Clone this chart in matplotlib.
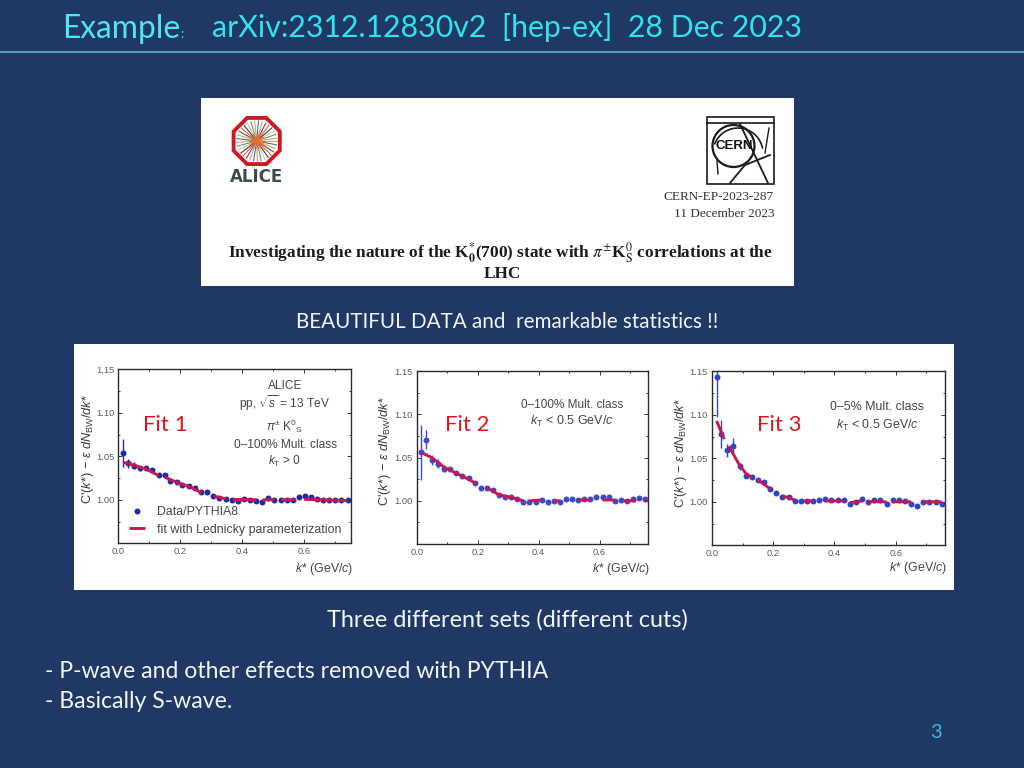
import numpy as np
import matplotlib
matplotlib.use("Agg")
import matplotlib.pyplot as plt
from matplotlib.patches import Rectangle, Polygon, Circle, Arc

plt.rcParams.update({
    "font.family": ["Liberation Sans", "DejaVu Sans"],
    "mathtext.fontset": "custom",
    "mathtext.rm": "Liberation Sans",
    "mathtext.it": "Liberation Sans:italic",
    "mathtext.bf": "Liberation Sans:bold",
})

# ---------- data ----------
kstar = [0.015, 0.03, 0.05, 0.07, 0.09, 0.11, 0.13, 0.15, 0.17, 0.19, 0.21, 0.23, 0.25,
         0.27, 0.29, 0.31, 0.33, 0.35, 0.37, 0.39, 0.41, 0.43, 0.45, 0.47, 0.49, 0.51,
         0.53, 0.55, 0.57, 0.59, 0.61, 0.63, 0.65, 0.67, 0.69, 0.71, 0.73, 0.75]
kstar_fit1 = [0.016, 0.032, 0.052, 0.071, 0.09, 0.11, 0.13, 0.15, 0.168, 0.188, 0.207, 0.227, 0.247,
              0.267, 0.287, 0.306, 0.326, 0.346, 0.366, 0.385, 0.405, 0.425, 0.445, 0.464, 0.484, 0.504,
              0.524, 0.544, 0.563, 0.583, 0.602, 0.622, 0.642, 0.661, 0.68, 0.70, 0.72, 0.741]

fit1_y = [1.054, 1.042, 1.039, 1.036, 1.036, 1.034, 1.028, 1.028, 1.022, 1.020, 1.017, 1.016, 1.013,
          1.009, 1.009, 1.004, 1.002, 1.001, 1.000, 0.999, 1.001, 1.000, 0.999, 0.998, 1.002, 0.9995,
          1.000, 1.000, 1.000, 1.003, 1.004, 1.003, 1.001, 1.000, 1.000, 1.000, 0.9995, 1.000]
fit1_err = [0.016, 0.005, 0.004, 0.003] + [0.002] * 34
fit1_line_x = [0.015, 0.05, 0.09, 0.13, None, 0.15, 0.19, 0.23, 0.27, None, 0.31, 0.35, None,
               0.37, 0.445, None, 0.465, 0.505, None, 0.525, 0.573, None, 0.60, 0.74]
fit1_line_y = [1.043, 1.040, 1.035, 1.028, None, 1.026, 1.020, 1.015, 1.008, None, 1.004, 1.001, None,
               1.0005, 1.000, None, 1.000, 1.000, None, 1.000, 1.000, None, 1.0005, 0.999]

fit2_y = [1.056, 1.071, 1.047, 1.043, 1.037, 1.037, 1.032, 1.029, 1.026, 1.021, 1.015, 1.015, 1.013,
          1.007, 1.004, 1.005, 1.002, 0.999, 0.999, 0.999, 1.001, 0.999, 1.000, 0.999, 1.002, 1.002,
          1.001, 1.002, 1.002, 1.005, 1.004, 1.004, 1.000, 1.001, 1.000, 1.002, 1.003, 1.002]
fit2_err = [0.032, 0.011, 0.006, 0.005, 0.004] + [0.002] * 33
fit2_line_x = [0.015, 0.05, 0.09, 0.13, 0.17, 0.195, None, 0.23, 0.27, 0.31, 0.35, None,
               0.37, 0.41, None, 0.45, 0.47, None, 0.53, 0.57, None, 0.61, 0.65, None, 0.68, 0.72, None, 0.745, 0.755]
fit2_line_y = [1.056, 1.050, 1.039, 1.032, 1.025, 1.020, None, 1.015, 1.007, 1.004, 1.000, None,
               1.000, 1.001, None, 1.000, 1.000, None, 1.001, 1.001, None, 1.001, 1.001, None, 1.000, 1.000, None, 1.000, 1.000]

fit3_y = [1.143, 1.078, 1.059, 1.064, 1.041, 1.030, 1.028, 1.025, 1.023, 1.015, 1.010, 1.006, 1.006,
          1.001, 1.001, 1.001, 1.001, 1.002, 1.003, 1.002, 1.002, 1.002, 0.997, 1.000, 1.003, 1.000,
          1.002, 1.002, 0.997, 1.002, 1.002, 1.001, 0.997, 0.995, 1.000, 1.000, 1.000, 0.998]
fit3_err = [0.045, 0.016, 0.008, 0.009, 0.004, 0.003] + [0.002] * 32
fit3_line_x = [0.015, 0.04, None, 0.055, 0.09, 0.11, 0.13, None, 0.15, 0.19, None, 0.23, 0.27, None,
               0.30, 0.33, None, 0.37, 0.43, None, 0.45, 0.49, None, 0.51, 0.57, None, 0.59, 0.65, None, 0.69, 0.75]
fit3_line_y = [1.093, 1.072, None, 1.064, 1.042, 1.033, 1.028, None, 1.025, 1.015, None, 1.007, 1.002, None,
               1.001, 1.001, None, 1.001, 1.001, None, 0.999, 1.001, None, 1.000, 1.000, None, 1.000, 1.000, None, 1.000, 1.000]

x_ticks = [0.0, 0.2, 0.4, 0.6]
y_ticks = [1.00, 1.05, 1.10, 1.15]
x_labels = ["0.0", "0.2", "0.4", "0.6"]
y_labels = ["1.00", "1.05", "1.10", "1.15"]

W, H = 1024, 768
BG = "#1F3864"
TXT = "#F2F4F8"
CYAN = "#4FE6EE"
RED = "#D8141C"
GREY = "#5A5A5A"
FIT = "#C9174F"

fig = plt.figure(figsize=(W / 100, H / 100), dpi=100, facecolor=BG)

bg = fig.add_axes([0, 0, 1, 1], zorder=0)
bg.set_xlim(0, W); bg.set_ylim(H, 0); bg.axis("off")

top = fig.add_axes([0, 0, 1, 1], zorder=5, facecolor="none")
top.set_xlim(0, W); top.set_ylim(H, 0); top.axis("off")

# header
bg.plot([0, W], [52, 52], color="#5FA6C6", lw=1.3)
bg.text(62, 38, "Example", fontsize=22.9, color=CYAN, family="Lato")
bg.text(180, 38, ":", fontsize=9, color=CYAN, family="Lato")
bg.text(212, 37, "arXiv:2312.12830v2  [hep-ex]  28 Dec 2023", fontsize=21.8, color="#2FE4F0", family="Lato")

# paper header image
bg.add_patch(Rectangle((201, 98), 593, 188, fc="white", ec="none"))
# ALICE logo
oct_angles = np.deg2rad(np.arange(22.5, 360, 45))
bg.add_patch(Polygon(np.c_[256.7 + 25 * np.cos(oct_angles), 141 + 25 * np.sin(oct_angles)],
                     fc="white", ec="#D01822", lw=2.8, closed=True))
ray_colors = ["#E2A05A", "#3A6FA8", "#D9A441", "#6B3F8F", "#D8602A", "#3C3C3C", "#E9B4A0", "#4E9A8A"]
for i, a in enumerate(np.deg2rad(np.arange(0, 360, 11))):
    bg.plot([256.7, 256.7 + 20 * np.cos(a)], [141, 141 + 20 * np.sin(a)],
            color=ray_colors[i % len(ray_colors)], lw=0.8)
for a in np.deg2rad(np.arange(0, 360, 30)):
    bg.plot([256.7, 256.7 + 7 * np.cos(a)], [141, 141 + 7 * np.sin(a)], color="#E8702A", lw=1.0)
bg.text(256.7, 177, "ALICE", fontsize=12, color="#3C4A52", family="DejaVu Sans", weight="bold",
        ha="center", va="center")
# CERN logo
bg.add_patch(Rectangle((707, 117), 67, 67, fc="white", ec="#1A1A1A", lw=1.2))
bg.add_patch(Circle((733.5, 146), 21, fc="none", ec="#1A1A1A", lw=1.6))
bg.add_patch(Arc((738, 153), 50, 50, theta1=20, theta2=170, angle=180, ec="#1A1A1A", lw=1.2))
bg.plot([707, 774], [123, 123], color="#1A1A1A", lw=1.2)
bg.plot([740, 768], [124, 183], color="#1A1A1A", lw=1.3)
bg.plot([730, 745, 770], [183, 165, 155], color="#1A1A1A", lw=1.3)
bg.plot([769, 765], [128, 153], color="#1A1A1A", lw=1.0)
bg.plot([717, 718], [161, 174], color="#1A1A1A", lw=1.0)
bg.text(734, 146, "CERN", fontsize=9.5, color="#111111", family="Liberation Sans",
        ha="center", va="center", weight="bold")
bg.text(774, 197, "CERN-EP-2023-287", fontsize=9.5, color="#333333", family="Liberation Serif", ha="right", va="center")
bg.text(774, 214, "11 December 2023", fontsize=9.5, color="#333333", family="Liberation Serif", ha="right", va="center")
bg.text(228, 253, r"Investigating the nature of the K$_{\mathbf{0}}^{*}$(700) state with $\pi^{\pm}$K$_{\mathrm{S}}^{0}$ correlations at the",
        fontsize=12.4, color="#1A1A1A", family="Liberation Serif", weight="bold", va="center",
        math_fontfamily="stix")
bg.text(502, 274, "LHC", fontsize=12.4, color="#1A1A1A", family="Liberation Serif", weight="bold",
        ha="center", va="center")

# captions
bg.text(507, 322, "BEAUTIFUL DATA and  remarkable statistics !!", fontsize=14.9, color=TXT, family="Lato",
        ha="center", va="center")
bg.text(507, 620, "Three different sets (different cuts)", fontsize=16.9, color=TXT, family="Lato",
        ha="center", va="center")
bg.text(45, 671, "- P-wave and other effects removed with PYTHIA", fontsize=16.6, color=TXT, family="Lato", va="center")
bg.text(45, 702, "- Basically S-wave.", fontsize=16.6, color=TXT, family="Lato", va="center")
bg.text(936, 733, "3", fontsize=14.5, color="#3FB8E0", family="Lato", ha="center", va="center")

# white panel holding the three plots
bg.add_patch(Rectangle((74, 344), 880, 246, fc="white", ec="none"))


def none_to_nan(seq):
    return [np.nan if v is None else v for v in seq]


def panel(box, xs, ys, errs, lx, ly, pt_color, xmax, xlab_xy, ylab_xy):
    l, r, t, b = box
    ax = fig.add_axes([l / W, 1 - b / H, (r - l) / W, (b - t) / H], zorder=2, facecolor="white")
    ax.errorbar(xs, ys, yerr=errs, fmt="none", ecolor=pt_color, elinewidth=1.0, zorder=2)
    ax.plot(xs, ys, "o", ms=4.3, color=pt_color, mec="none", zorder=3, label="Data/PYTHIA8")
    ax.plot(none_to_nan(lx), none_to_nan(ly), color=FIT, lw=2.1, zorder=4,
            label="fit with Lednicky parameterization", solid_capstyle="butt")
    ax.set_xlim(0, xmax)
    ax.set_ylim(0.95, 1.15)
    ax.set_xticks(x_ticks, x_labels)
    ax.set_yticks(y_ticks, y_labels)
    ax.set_xticks(np.arange(0.1, 0.75, 0.2), minor=True)
    ax.set_yticks([0.975, 1.025, 1.075, 1.125], minor=True)
    ax.tick_params(which="both", direction="in", top=True, right=True, color="#333333", width=0.7)
    ax.tick_params(which="major", length=2.6, labelsize=6.7, labelcolor=GREY, pad=3)
    ax.tick_params(which="minor", length=1.6)
    for s in ax.spines.values():
        s.set_linewidth(1.0)
        s.set_color("#2A2A2A")
    ax.set_xlabel(r"$k$* (GeV/$c$)", fontsize=8.9, color="#444444", ha="right", va="center")
    ax.xaxis.set_label_coords(*xlab_xy, transform=top.transData)
    ax.set_ylabel(r"C'($k$*) $-$ $\varepsilon$ $dN_{\mathrm{BW}}$/$dk$*", fontsize=9.2,
                  color="#3A3A3A", va="center", ha="center")
    ax.yaxis.set_label_coords(*ylab_xy, transform=top.transData)
    return ax


ax1 = panel((118.3, 351.3, 369.3, 543.3), kstar_fit1, fit1_y, fit1_err, fit1_line_x, fit1_line_y,
            "#1F2BA0", 0.752, (353, 569), (88, 449))
ax2 = panel((416.7, 648.3, 371.3, 544.0), kstar, fit2_y, fit2_err, fit2_line_x, fit2_line_y,
            "#3A4CCB", 0.76, (650, 569), (385, 451))
ax3 = panel((712.0, 945.0, 371.3, 545.3), kstar, fit3_y, fit3_err, fit3_line_x, fit3_line_y,
            "#2F45C8", 0.761, (947, 568), (681, 453))

ax1.legend(loc="center left", bbox_to_anchor=(129, 521), bbox_transform=top.transData, frameon=False,
           fontsize=8.9, labelcolor="#444444", handlelength=1.3, handletextpad=0.95, labelspacing=0.45,
           borderpad=0, borderaxespad=0)

pc = "#444444"
top.text(285, 386, "ALICE", fontsize=8.6, color=pc, ha="center", va="center")
top.text(285, 403, r"pp, $\sqrt{s}$ = 13 TeV", fontsize=8.6, color=pc, ha="center", va="center")
top.text(285, 426, r"$\pi^{\pm}$ K$^{0}$$_{\mathrm{S}}$", fontsize=8.6, color=pc, ha="center", va="center")
top.text(285, 445, "0–100% Mult. class", fontsize=8.6, color=pc, ha="center", va="center")
top.text(285, 461, r"$k_{\mathrm{T}}$ > 0", fontsize=8.6, color=pc, ha="center", va="center")

top.text(572, 405, "0–100% Mult. class", fontsize=8.5, color=pc, ha="center", va="center")
top.text(572, 421, r"$k_{\mathrm{T}}$ < 0.5 GeV/$c$", fontsize=9, color=pc, ha="center", va="center")

top.text(877, 407, "0–5% Mult. class", fontsize=8.9, color=pc, ha="center", va="center")
top.text(877, 425, r"$k_{\mathrm{T}}$ < 0.5 GeV/$c$", fontsize=8.9, color=pc, ha="center", va="center")

top.text(165, 425, "Fit 1", fontsize=16, color=RED, family="Lato", ha="center", va="center")
top.text(467, 425, "Fit 2", fontsize=16, color=RED, family="Lato", ha="center", va="center")
top.text(779, 425, "Fit 3", fontsize=16, color=RED, family="Lato", ha="center", va="center")

fig.savefig("out.png", dpi=100, facecolor=BG)
